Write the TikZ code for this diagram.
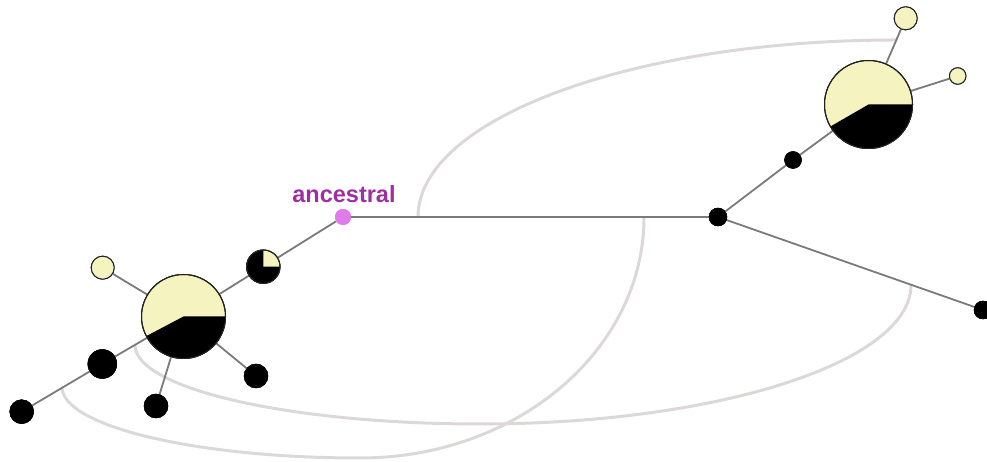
\documentclass[tikz,border=0pt]{standalone}
\usepackage{fontspec}
\setmainfont{Liberation Sans}
\definecolor{pieyellow}{HTML}{F5F3BF}
\definecolor{ancfill}{HTML}{E07BEA}
\definecolor{anclabel}{HTML}{9E2FA3}
\definecolor{edgegray}{HTML}{7A7A7A}
\definecolor{curvegray}{HTML}{DCD8D8}
\definecolor{outline}{HTML}{222222}
\tikzset{
  edge/.style={draw=edgegray, line width=1.8pt},
  link/.style={draw=curvegray, line width=3pt},
  blacknode/.style={circle, fill=black, draw=black, inner sep=0pt},
  yellownode/.style={circle, fill=pieyellow, draw=outline, line width=1pt, inner sep=0pt},
  pienode/.style={circle, fill=pieyellow, draw=outline, line width=1pt, inner sep=0pt},
  ancnode/.style={circle, fill=ancfill, inner sep=0pt},
  pieline/.style={draw=outline, line width=1pt},
}
\begin{document}
\begin{tikzpicture}[x=1pt, y=1pt]
\useasboundingbox (0,0) rectangle (987,462);
% nodes
\node[pienode, minimum size=84pt] (LB) at (183.5,145.5) {};
\node[pienode, minimum size=88pt] (RB) at (868.5,357.5) {};
\node[blacknode, minimum size=33.4pt, draw=outline, line width=1pt] (SP) at (263.3,195.3) {};
\node[ancnode, minimum size=16pt] (anc) at (343,245) {};
\node[blacknode, minimum size=18pt] (N1) at (718,245) {};
\node[blacknode, minimum size=17pt] (N2) at (793,302) {};
\node[blacknode, minimum size=18pt] (N3) at (983,152) {};
\node[yellownode, minimum size=23pt] (YT) at (905.7,443.7) {};
\node[yellownode, minimum size=16.5pt] (YR) at (957.7,386) {};
\node[yellownode, minimum size=23pt] (YL) at (102.7,194.3) {};
\node[blacknode, minimum size=29pt] (BL) at (102.3,98) {};
\node[blacknode, minimum size=24pt] (BFL) at (21.7,50.3) {};
\node[blacknode, minimum size=24pt] (BB) at (156,56) {};
\node[blacknode, minimum size=24pt] (BRB) at (256,86) {};
\node[font=\bfseries\fontsize{23.5}{28}\selectfont, text=anclabel, anchor=base, inner sep=0pt] (lab) at (344,259) {ancestral};
% curve anchor points
\coordinate (c1a) at (418,245);
\coordinate (c1b) at (896,422);
\coordinate (c2a) at (644,245);
\coordinate (c2m) at (360,4);
\coordinate (c2b) at (62,75);
\coordinate (c3a) at (911,177);
\coordinate (c3m) at (480,38);
\coordinate (c3b) at (135,117);
% curves (behind)
\draw[link] (c1a) .. controls (418,342.8) and (632,422) .. (c1b);
\draw[link] (c2a) .. controls (644,112) and (517,4) .. (c2m) .. controls (195,4) and (62,36) .. (c2b);
\draw[link] (c3a) .. controls (911,100) and (718,38) .. (c3m) .. controls (289.5,38) and (135,73.4) .. (c3b);
% edges
\draw[edge] (anc) -- (SP);
\draw[edge] (SP) -- (LB);
\draw[edge] (LB) -- (BL);
\draw[edge] (BL) -- (BFL);
\draw[edge] (LB) -- (YL);
\draw[edge] (LB) -- (BB);
\draw[edge] (LB) -- (BRB);
\draw[edge] (anc) -- (N1);
\draw[edge] (N1) -- (N2);
\draw[edge] (N2) -- (RB);
\draw[edge] (RB) -- (YT);
\draw[edge] (RB) -- (YR);
\draw[edge] (N1) -- (N3);
% redraw nodes over edges, with pie slices
\node[pienode, minimum size=84pt] at (LB.center) {};
\fill[black] (LB.center) -- ++(0:42) arc[start angle=0, end angle=-152.2, radius=42] -- cycle;
\draw[pieline] (LB.center) circle[radius=42];
\node[pienode, minimum size=88pt] at (RB.center) {};
\fill[black] (RB.center) -- ++(0:44) arc[start angle=0, end angle=-150, radius=44] -- cycle;
\draw[pieline] (RB.center) circle[radius=44];
\node[blacknode, minimum size=33.4pt, draw=outline, line width=1pt] at (SP.center) {};
\fill[pieyellow] (SP.center) -- ++(0:16.2) arc[start angle=0, end angle=90, radius=16.2] -- cycle;
\draw[pieline] (SP.center) circle[radius=16.7];
\node[ancnode, minimum size=16pt] at (anc.center) {};
\node[blacknode, minimum size=18pt] at (N1.center) {};
\node[blacknode, minimum size=17pt] at (N2.center) {};
\node[blacknode, minimum size=18pt] at (N3.center) {};
\node[yellownode, minimum size=23pt] at (YT.center) {};
\node[yellownode, minimum size=16.5pt] at (YR.center) {};
\node[yellownode, minimum size=23pt] at (YL.center) {};
\node[blacknode, minimum size=29pt] at (BL.center) {};
\node[blacknode, minimum size=24pt] at (BFL.center) {};
\node[blacknode, minimum size=24pt] at (BB.center) {};
\node[blacknode, minimum size=24pt] at (BRB.center) {};
\end{tikzpicture}
\end{document}
